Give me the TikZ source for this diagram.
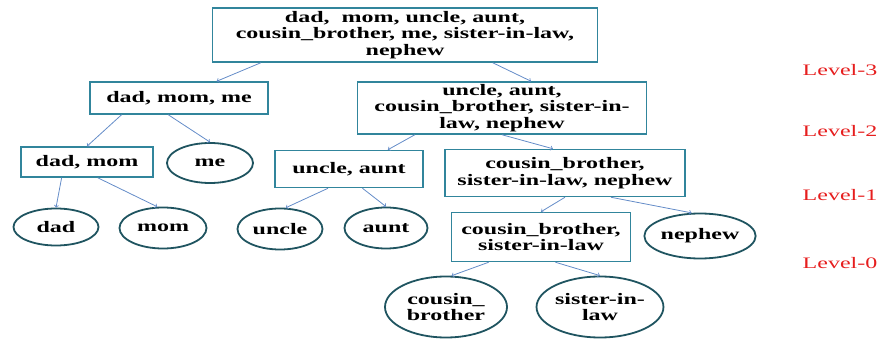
\documentclass[tikz,border=0pt]{standalone}
\usepackage{fontspec}
\setmainfont[FakeStretch=1.5]{Liberation Serif}
\usetikzlibrary{shapes.geometric,calc}
\definecolor{boxline}{RGB}{49,133,156}
\definecolor{ovalline}{RGB}{31,84,96}
\definecolor{linkline}{RGB}{100,140,200}
\definecolor{levelred}{RGB}{230,30,30}
\tikzset{
  setbox/.style={draw=boxline,line width=1.5pt,align=center,inner sep=0pt,
    font=\bfseries\fontsize{16}{16.5}\selectfont},
  leaf/.style={ellipse,draw=ovalline,line width=1.8pt,align=center,inner sep=0pt,
    font=\bfseries\fontsize{16}{16.5}\selectfont},
  link/.style={draw=linkline,line width=.8pt,->},
  levelname/.style={text=levelred,font=\fontsize{16}{16.5}\selectfont}
}
\begin{document}
\begin{tikzpicture}[x=1pt,y=-1pt]
  \useasboundingbox (0,0) rectangle (881,339);
  % sets
  \node[setbox,minimum width=385,minimum height=54] (all) at (405,35) {dad,\ \ mom, uncle, aunt,\\cousin\_brother, me, sister-in-law,\\nephew};
  \node[setbox,minimum width=178,minimum height=32] (dmm) at (179,98) {dad, mom, me};
  \node[setbox,minimum width=289,minimum height=52] (uacsn) at (502,108) {uncle, aunt,\\cousin\_brother, sister-in-\\law, nephew};
  \node[setbox,minimum width=132,minimum height=30] (dm) at (87,162) {dad, mom};
  \node[setbox,minimum width=148,minimum height=37] (ua) at (349,169) {uncle, aunt};
  \node[setbox,minimum width=240,minimum height=47] (csn) at (565,173) {cousin\_brother,\\sister-in-law, nephew};
  \node[setbox,minimum width=179,minimum height=49] (cs) at (541,237) {cousin\_brother,\\sister-in-law};
  % single members
  \node[leaf,minimum width=86,minimum height=40] (me) at (210,163) {me};
  \node[leaf,minimum width=85,minimum height=37] (dad) at (56,227) {dad};
  \node[leaf,minimum width=87,minimum height=41] (mom) at (163,228) {mom};
  \node[leaf,minimum width=85,minimum height=41] (uncle) at (280,229) {\raisebox{-3pt}{uncle}};
  \node[leaf,minimum width=83,minimum height=41] (aunt) at (386,228) {aunt};
  \node[leaf,minimum width=93,minimum height=45] (nephew) at (700,236) {nephew};
  \node[leaf,minimum width=122,minimum height=61] (cousin) at (446,307) {cousin\_\\brother};
  \node[leaf,minimum width=126,minimum height=61] (sister) at (600,307) {sister-in-\\law};
  % levels
  \node[levelname] (l3) at (840,70) {Level-3};
  \node[levelname] (l2) at (840,131) {Level-2};
  \node[levelname] (l1) at (840,195) {Level-1};
  \node[levelname] (l0) at (840,263) {Level-0};
  % splits
  \draw[link] ($(all.south west)!.127!(all.south east)$) -- ($(dmm.north west)!.71!(dmm.north east)$);
  \draw[link] ($(all.south west)!.727!(all.south east)$) -- ($(uacsn.north west)!.6!(uacsn.north east)$);
  \draw[link] ($(dmm.south west)!.18!(dmm.south east)$) -- (dm.north);
  \draw[link] ($(dmm.south west)!.44!(dmm.south east)$) -- (me.north);
  \draw[link] ($(uacsn.south west)!.2!(uacsn.south east)$) -- ($(ua.north west)!.76!(ua.north east)$);
  \draw[link] ($(uacsn.south west)!.5!(uacsn.south east)$) -- ($(csn.north west)!.45!(csn.north east)$);
  \draw[link] ($(dm.south west)!.31!(dm.south east)$) -- (dad.north);
  \draw[link] ($(dm.south west)!.58!(dm.south east)$) -- (mom.105);
  \draw[link] ($(ua.south west)!.36!(ua.south east)$) -- (uncle.75);
  \draw[link] ($(ua.south west)!.59!(ua.south east)$) -- (aunt.north);
  \draw[link] ($(csn.south west)!.5!(csn.south east)$) -- (cs.north);
  \draw[link] ($(csn.south west)!.69!(csn.south east)$) -- (nephew.110);
  \draw[link] ($(cs.south west)!.21!(cs.south east)$) -- (cousin.80);
  \draw[link] ($(cs.south west)!.58!(cs.south east)$) -- (sister.north);
\end{tikzpicture}
\end{document}
